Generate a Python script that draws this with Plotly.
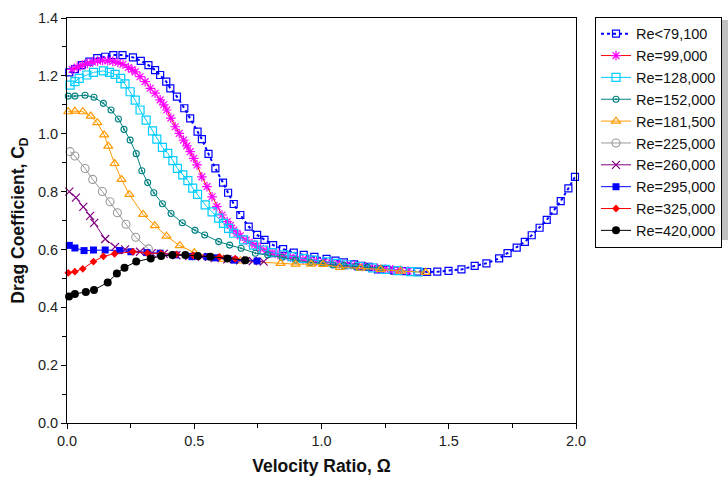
import plotly.graph_objects as go

# ---------------- data ----------------
names = ["Re<79,100", "Re=99,000", "Re=128,000", "Re=152,000", "Re=181,500",
         "Re=225,000", "Re=260,000", "Re=295,000", "Re=325,000", "Re=420,000"]

x_79 = [0.009, 0.031, 0.058, 0.088, 0.119, 0.150, 0.182, 0.218, 0.259, 0.290, 0.320, 0.346, 0.366, 0.390,
        0.406, 0.432, 0.461, 0.484, 0.513, 0.530, 0.556, 0.583, 0.613, 0.633, 0.655, 0.681, 0.714, 0.747,
        0.776, 0.810, 0.849, 0.891, 0.930, 0.972, 1.020, 1.055, 1.088, 1.128, 1.157, 1.186, 1.222, 1.256,
        1.287, 1.331, 1.377, 1.415, 1.455, 1.499, 1.550, 1.602, 1.648, 1.698, 1.731, 1.767, 1.799, 1.826,
        1.857, 1.885, 1.912, 1.940, 1.970, 1.996]
y_79 = [1.212, 1.223, 1.237, 1.249, 1.261, 1.266, 1.272, 1.272, 1.264, 1.252, 1.237, 1.220, 1.203, 1.180,
        1.157, 1.128, 1.088, 1.053, 1.007, 0.981, 0.930, 0.880, 0.831, 0.796, 0.757, 0.719, 0.679, 0.650,
        0.633, 0.615, 0.601, 0.589, 0.581, 0.574, 0.567, 0.561, 0.555, 0.548, 0.543, 0.540, 0.531, 0.529,
        0.527, 0.525, 0.523, 0.522, 0.523, 0.526, 0.531, 0.543, 0.552, 0.569, 0.587, 0.606, 0.626, 0.649,
        0.675, 0.702, 0.734, 0.767, 0.811, 0.851]

x_99 = [0.02, 0.04, 0.06, 0.08, 0.10, 0.12, 0.14, 0.16, 0.18, 0.20, 0.22, 0.241, 0.255, 0.268, 0.287,
        0.307, 0.327, 0.346, 0.366, 0.380, 0.392, 0.408, 0.425, 0.441, 0.458, 0.471, 0.484, 0.498, 0.511,
        0.530, 0.550, 0.570, 0.589, 0.609, 0.629, 0.642, 0.655, 0.668, 0.681, 0.704, 0.727, 0.744, 0.760,
        0.783, 0.806, 0.829, 0.852, 0.878, 0.904, 0.927, 0.950, 0.98, 1.01, 1.04, 1.07, 1.10, 1.13, 1.16,
        1.19, 1.22, 1.25, 1.28, 1.31, 1.34]
y_99 = [1.222, 1.230, 1.237, 1.243, 1.248, 1.251, 1.253, 1.252, 1.250, 1.246, 1.240, 1.229, 1.222, 1.214,
        1.197, 1.180, 1.157, 1.140, 1.117, 1.100, 1.082, 1.054, 1.024, 1.001, 0.978, 0.958, 0.938, 0.915,
        0.892, 0.851, 0.817, 0.782, 0.748, 0.719, 0.696, 0.683, 0.667, 0.656, 0.647, 0.632, 0.621, 0.612,
        0.604, 0.595, 0.588, 0.583, 0.578, 0.573, 0.569, 0.566, 0.563, 0.560, 0.557, 0.553, 0.550, 0.547,
        0.544, 0.541, 0.538, 0.535, 0.532, 0.530, 0.527, 0.525]

x_128 = [0.012, 0.031, 0.048, 0.078, 0.104, 0.143, 0.167, 0.189, 0.211, 0.228, 0.248, 0.268, 0.287, 0.311,
         0.336, 0.353, 0.375, 0.396, 0.416, 0.434, 0.455, 0.475, 0.494, 0.513, 0.543, 0.570, 0.596, 0.615,
         0.635, 0.655, 0.694, 0.733, 0.773, 0.806, 0.852, 0.885, 0.93, 0.97, 1.02, 1.06, 1.10, 1.15, 1.20,
         1.25, 1.30, 1.35, 1.38]
y_128 = [1.168, 1.180, 1.191, 1.203, 1.212, 1.217, 1.212, 1.205, 1.191, 1.172, 1.145, 1.116, 1.082, 1.047,
         1.010, 0.981, 0.953, 0.932, 0.907, 0.880, 0.858, 0.838, 0.812, 0.790, 0.754, 0.730, 0.708, 0.690,
         0.673, 0.656, 0.633, 0.615, 0.598, 0.589, 0.581, 0.575, 0.568, 0.563, 0.557, 0.552, 0.547, 0.541,
         0.536, 0.531, 0.527, 0.523, 0.522]

x_152 = [0.005, 0.031, 0.071, 0.106, 0.143, 0.173, 0.202, 0.224, 0.248, 0.272, 0.294, 0.317, 0.341, 0.375,
         0.409, 0.453, 0.503, 0.541, 0.596, 0.639, 0.684, 0.740, 0.789, 0.845, 0.898, 0.957, 1.003, 1.045,
         1.088, 1.134, 1.180, 1.232]
y_152 = [1.130, 1.130, 1.133, 1.126, 1.105, 1.082, 1.051, 1.015, 0.978, 0.931, 0.872, 0.831, 0.796, 0.758,
         0.724, 0.692, 0.666, 0.650, 0.627, 0.615, 0.604, 0.587, 0.581, 0.573, 0.563, 0.555, 0.552, 0.546,
         0.544, 0.541, 0.538, 0.535]

x_181 = [0.005, 0.031, 0.062, 0.093, 0.119, 0.146, 0.162, 0.187, 0.214, 0.245, 0.299, 0.345, 0.391, 0.443,
         0.500, 0.615, 0.681, 0.839, 0.898, 0.959, 1.006, 1.072, 1.154, 1.232, 1.311, 1.409]
y_181 = [1.076, 1.078, 1.076, 1.061, 1.038, 0.996, 0.957, 0.897, 0.842, 0.790, 0.721, 0.682, 0.646, 0.613,
         0.589, 0.566, 0.560, 0.552, 0.549, 0.549, 0.548, 0.538, 0.535, 0.531, 0.525, 0.521]

x_225 = [0.012, 0.031, 0.071, 0.101, 0.139, 0.169, 0.198, 0.232, 0.270, 0.320]
y_225 = [0.938, 0.923, 0.880, 0.842, 0.800, 0.765, 0.727, 0.687, 0.642, 0.602]

x_260 = [0.009, 0.035, 0.064, 0.091, 0.107, 0.150, 0.189, 0.228, 0.287, 0.333, 0.380, 0.430, 0.480, 0.530,
         0.580, 0.630, 0.680, 0.730, 0.773]
y_260 = [0.800, 0.779, 0.747, 0.716, 0.692, 0.636, 0.609, 0.600, 0.592, 0.587, 0.585, 0.580, 0.577, 0.574,
         0.570, 0.566, 0.562, 0.560, 0.558]

x_295 = [0.009, 0.031, 0.067, 0.104, 0.150, 0.207, 0.251, 0.314, 0.366, 0.425, 0.491, 0.550, 0.583, 0.657, 0.747]
y_295 = [0.614, 0.605, 0.596, 0.598, 0.598, 0.596, 0.592, 0.589, 0.587, 0.581, 0.575, 0.575, 0.571, 0.563, 0.560]

x_325 = [0.005, 0.031, 0.062, 0.104, 0.143, 0.187, 0.259, 0.316, 0.370, 0.430, 0.497, 0.599, 0.661]
y_325 = [0.519, 0.523, 0.533, 0.558, 0.576, 0.585, 0.592, 0.587, 0.586, 0.583, 0.579, 0.574, 0.568]

x_420 = [0.008, 0.031, 0.074, 0.106, 0.160, 0.196, 0.226, 0.272, 0.329, 0.370, 0.414, 0.465, 0.514, 0.563,
         0.630, 0.701]
y_420 = [0.437, 0.446, 0.453, 0.460, 0.486, 0.517, 0.537, 0.558, 0.569, 0.577, 0.581, 0.581, 0.577, 0.575,
         0.569, 0.563]

x_ticks = [0.0, 0.5, 1.0, 1.5, 2.0]
y_ticks = [0.0, 0.2, 0.4, 0.6, 0.8, 1.0, 1.2, 1.4]

# ---------------- styles ----------------
series = [
    (x_79, y_79, dict(symbol="square-open", size=7, color="#0000FF", line=dict(width=1.2, color="#0000FF")),
     dict(color="#0000FF", width=2, dash="dot")),
    (x_99, y_99, dict(symbol="asterisk-open", size=8, color="#FF00FF", line=dict(width=1.2, color="#FF00FF")),
     dict(color="#FF0000", width=1)),
    (x_128, y_128, dict(symbol="square-open", size=8, color="#00CCFF", line=dict(width=1.2, color="#00CCFF")),
     dict(color="#00CCFF", width=1)),
    (x_152, y_152, dict(symbol="circle-open-dot", size=6, color="#008080", line=dict(width=1.1, color="#008080")),
     dict(color="#008080", width=1)),
    (x_181, y_181, dict(symbol="triangle-up-open", size=8, color="#FF9900", line=dict(width=1.2, color="#FF9900")),
     dict(color="#FF9900", width=1)),
    (x_225, y_225, dict(symbol="circle-open", size=8, color="#999999", line=dict(width=1.1, color="#999999")),
     dict(color="#999999", width=1)),
    (x_260, y_260, dict(symbol="x-thin-open", size=8, color="#800080", line=dict(width=1.2, color="#800080")),
     dict(color="#800080", width=1)),
    (x_295, y_295, dict(symbol="square", size=7, color="#0000FF"), dict(color="#0000FF", width=1)),
    (x_325, y_325, dict(symbol="diamond", size=6, color="#FF0000"), dict(color="#FF0000", width=1)),
    (x_420, y_420, dict(symbol="circle", size=8, color="#000000"), dict(color="#000000", width=1)),
]

fig = go.Figure()
for name, (xs, ys, mk, ln) in zip(names, series):
    fig.add_trace(go.Scatter(x=xs, y=ys, mode="lines+markers", name=name, legendgroup=name,
                             marker=mk, line=ln, cliponaxis=False))

font_fam = "Arial, Liberation Sans, sans-serif"

# legend shadow (bottom strip)
fig.add_shape(type="rect", xref="paper", yref="paper",
              x0=(598 - 67) / 509, x1=(760 - 67) / 509,
              y0=(423 - 240) / 405, y1=(423 - 20) / 405,
              fillcolor="#C0C0C0", line=dict(width=0), layer="below")

fig.update_layout(
    width=728, height=481,
    margin=dict(l=67, r=152, t=18, b=58, autoexpand=False),
    paper_bgcolor="white", plot_bgcolor="white",
    font=dict(family=font_fam, size=14.5, color="#222222"),
    showlegend=True,
    legend=dict(x=(595 - 67) / 509, y=1.003, xanchor="left", yanchor="top",
                bgcolor="white", bordercolor="black", borderwidth=1,
                font=dict(family=font_fam, size=14.5, color="#111111"),
                tracegroupgap=0, itemwidth=30),
    xaxis=dict(range=[0, 2.0], tickvals=x_ticks, ticktext=[f"{v:.1f}" for v in x_ticks],
               ticks="outside", ticklen=5, tickcolor="black", showline=True, linecolor="black",
               linewidth=1, mirror=True, showgrid=False, zeroline=False, automargin=False,
               tickfont=dict(size=14.5, color="#222222"),
               minor=dict(dtick=0.25, ticks="outside", ticklen=4, tickcolor="black", showgrid=False),
               title=dict(text="<b>Velocity Ratio, Ω</b>", font=dict(size=17.5, color="#111111"), standoff=11)),
    yaxis=dict(range=[0, 1.4], tickvals=y_ticks, ticktext=[f"{v:.1f}" for v in y_ticks],
               ticks="outside", ticklen=5, tickcolor="black", showline=True, linecolor="black",
               linewidth=1, mirror=True, showgrid=False, zeroline=False, automargin=False,
               tickfont=dict(size=14.5, color="#222222"),
               minor=dict(dtick=0.1, ticks="outside", ticklen=4, tickcolor="black", showgrid=False),
               title=dict(text="<b>Drag Coefficient, C<sub>D</sub></b>", font=dict(size=17.5, color="#111111"),
                          standoff=8)),
)

fig.write_html("out.html")
